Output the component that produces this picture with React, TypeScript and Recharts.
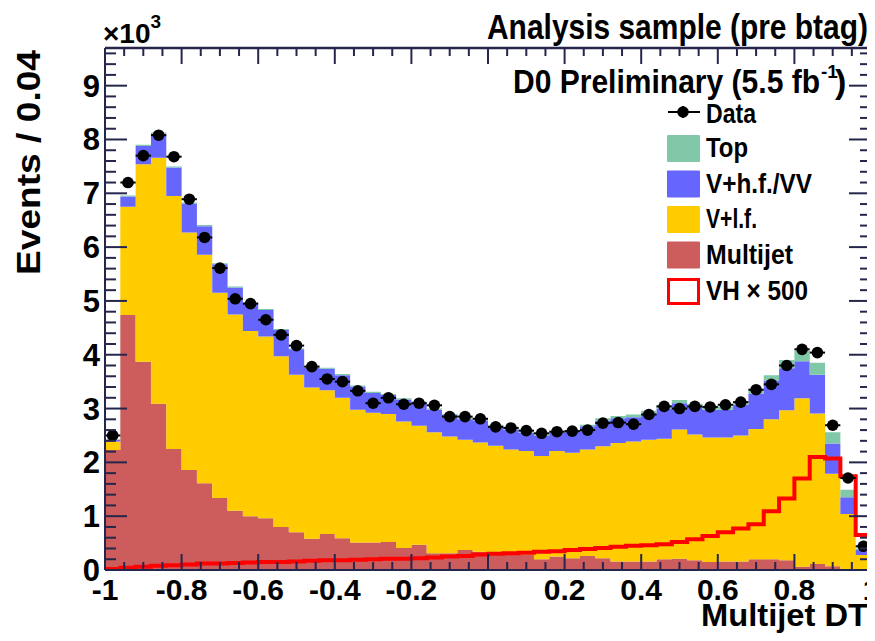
import React from 'react';
import { ComposedChart, Area, Line, Scatter, XAxis, YAxis, ErrorBar, ReferenceLine } from 'recharts';

const FONT = '"Liberation Sans", Arial, Helvetica, sans-serif';

// Histogram binning (Multijet DT, 50 bins of 0.04)
const BIN_WIDTH = 0.04;
const binLowEdges = [
  -1.0, -0.96, -0.92, -0.88, -0.84, -0.8, -0.76, -0.72, -0.68, -0.64,
  -0.6, -0.56, -0.52, -0.48, -0.44, -0.4, -0.36, -0.32, -0.28, -0.24,
  -0.2, -0.16, -0.12, -0.08, -0.04, 0.0, 0.04, 0.08, 0.12, 0.16,
  0.2, 0.24, 0.28, 0.32, 0.36, 0.4, 0.44, 0.48, 0.52, 0.56,
  0.6, 0.64, 0.68, 0.72, 0.76, 0.8, 0.84, 0.88, 0.92, 0.96,
];

// Events per bin for each background component (stacked bottom -> top)
const multijet = [
  2230, 4740, 3870, 3090, 2250, 1860, 1610, 1340, 1100, 1000,
  960, 800, 700, 580, 670, 590, 510, 510, 520, 410,
  470, 310, 310, 370, 340, 290, 290, 280, 200, 250,
  220, 260, 220, 160, 160, 160, 200, 210, 180, 150,
  160, 160, 200, 200, 180, 60, 110, 70, 20, 10,
];
const vlf = [
  160, 2010, 3670, 4570, 4700, 4410, 4250, 3810, 3650, 3440,
  3380, 3170, 2930, 2810, 2670, 2610, 2470, 2410, 2380, 2350,
  2210, 2250, 2170, 2050, 2030, 2020, 1950, 1930, 1920, 1960,
  1960, 1980, 2080, 2200, 2230, 2260, 2240, 2400, 2340, 2310,
  2300, 2340, 2420, 2600, 2790, 3130, 2800, 1720, 1020, 270,
];
const vhf = [
  30, 190, 340, 450, 530, 540, 530, 530, 500, 510,
  490, 490, 470, 370, 400, 420, 430, 370, 350, 410,
  430, 420, 400, 380, 410, 370, 370, 340, 370, 340,
  390, 430, 480, 460, 450, 490, 560, 490, 510, 520,
  520, 570, 660, 720, 780, 690, 720, 560, 310, 90,
];
const topq = [
  10, 20, 20, 20, 20, 20, 20, 20, 20, 20,
  20, 20, 20, 20, 20, 20, 20, 20, 20, 20,
  20, 20, 20, 20, 20, 20, 30, 30, 30, 30,
  30, 30, 40, 40, 50, 50, 60, 60, 60, 60,
  60, 60, 70, 100, 150, 190, 220, 210, 140, 30,
];
const vhTimes500 = [
  20, 40, 60, 80, 90, 100, 120, 120, 130, 140,
  150, 150, 160, 170, 180, 180, 190, 200, 210, 210,
  220, 230, 250, 260, 290, 300, 310, 320, 340, 350,
  370, 390, 410, 430, 450, 460, 480, 520, 570, 630,
  700, 770, 850, 1090, 1330, 1700, 2100, 2070, 1740, 650,
];
const dataCounts = [
  2500, 7200, 7700, 8080, 7680, 6890, 6180, 5610, 5040, 4950,
  4650, 4370, 4170, 3780, 3550, 3500, 3330, 3100, 3200, 3080,
  3100, 3060, 2850, 2850, 2810, 2660, 2640, 2590, 2540, 2570,
  2580, 2600, 2730, 2740, 2710, 2890, 3040, 3000, 3040, 3030,
  3070, 3120, 3350, 3450, 3800, 4100, 4040, 2690, 1710, 440,
];

// Axis ticks / labels
const X_DOMAIN = [-1, 1];
const Y_DOMAIN = [0, 9700];
const xMajorTicks = [-1, -0.8, -0.6, -0.4, -0.2, 0, 0.2, 0.4, 0.6, 0.8, 1];
const xMajorLabels = ['-1', '-0.8', '-0.6', '-0.4', '-0.2', '0', '0.2', '0.4', '0.6', '0.8', '1'];
const yMajorTicks = [0, 1000, 2000, 3000, 4000, 5000, 6000, 7000, 8000, 9000];
const yMajorLabels = ['0', '1', '2', '3', '4', '5', '6', '7', '8', '9'];
const xAllTicks = Array.from({ length: 41 }, (_, i) => Math.round((-1 + i * 0.05) * 100) / 100);
const yAllTicks = Array.from({ length: 49 }, (_, i) => i * 200);

const COLORS = {
  top: '#80C8A8',
  vhf: '#6666FF',
  vlf: '#FFCC00',
  multijet: '#CD5C5C',
  vh: '#FF0000',
  frame: '#26264D',
};

const legendItems = [
  { label: 'Top', fill: COLORS.top, len: 42 },
  { label: 'V+h.f./VV', fill: COLORS.vhf, len: 106 },
  { label: 'V+l.f.', fill: COLORS.vlf, len: 51 },
  { label: 'Multijet', fill: COLORS.multijet, len: 87 },
];

// Table for step areas: one row per lower bin edge plus closing edge at x = 1
const histRows = binLowEdges.map((x, i) => ({
  x,
  multijet: multijet[i],
  vlf: vlf[i],
  vhf: vhf[i],
  top: topq[i],
  vh: vhTimes500[i],
}));
histRows.push({ ...histRows[histRows.length - 1], x: 1 });

const dataPoints = binLowEdges.map((x, i) => ({
  x: Math.round((x + BIN_WIDTH / 2) * 1000) / 1000,
  y: dataCounts[i],
  ex: BIN_WIDTH / 2,
}));

const W = 867;
const H = 625;
const MARGIN = { top: 40, right: 4, bottom: 0, left: 0 };
const PLOT_TOP = MARGIN.top;
const PLOT_RIGHT = W - MARGIN.right;

const isMajorX = (v: number) => xMajorTicks.some((t) => Math.abs(t - v) < 1e-6);
const isMajorY = (v: number) => yMajorTicks.some((t) => Math.abs(t - v) < 1e-6);

const TICK_W = 2;

// Bottom axis tick: inward tick at bottom and mirrored tick along the top frame
const BottomTick = (props: any) => {
  const { x, y, payload } = props;
  const v = payload.value;
  const major = isMajorX(v);
  const len = major ? 16 : 8;
  const idx = xMajorTicks.findIndex((t) => Math.abs(t - v) < 1e-6);
  return (
    <g>
      <line x1={x} x2={x} y1={y} y2={y - len} stroke={COLORS.frame} strokeWidth={TICK_W} />
      <line x1={x} x2={x} y1={PLOT_TOP} y2={PLOT_TOP + len} stroke={COLORS.frame} strokeWidth={TICK_W} />
      {major && (
        <text x={x} y={y + 30} textAnchor="middle" fontFamily={FONT} fontWeight="bold" fontSize={30} fill="#000">
          {xMajorLabels[idx]}
        </text>
      )}
    </g>
  );
};

// Left axis tick: inward tick at left and mirrored tick along the right frame
const LeftTick = (props: any) => {
  const { x, y, payload } = props;
  const v = payload.value;
  const major = isMajorY(v);
  const len = major ? 22 : 11;
  const idx = yMajorTicks.findIndex((t) => Math.abs(t - v) < 1e-6);
  return (
    <g>
      <line x1={x} x2={x + len} y1={y} y2={y} stroke={COLORS.frame} strokeWidth={TICK_W} />
      <line x1={PLOT_RIGHT} x2={PLOT_RIGHT - len} y1={y} y2={y} stroke={COLORS.frame} strokeWidth={TICK_W} />
      {major && (
        <text x={x - 5} y={y + 11} textAnchor="end" fontFamily={FONT} fontWeight="bold" fontSize={31} fill="#000">
          {yMajorLabels[idx]}
        </text>
      )}
    </g>
  );
};

const renderDot = (props: any) => {
  const { cx, cy } = props;
  if (cx == null || cy == null) return <g />;
  return <circle cx={cx} cy={cy} r={5.8} fill="#000" />;
};

const axisLine = { stroke: COLORS.frame, strokeWidth: 2 };

const Annotations = () => (
  <g fontFamily={FONT} fontWeight="bold">
    <text x={95} y={35} fontSize={28} fill="#000">
      ×10
      <tspan dy={-15} fontSize={19}>3</tspan>
    </text>
    <text x={860} y={31} fontSize={35} textAnchor="end" textLength={381} lengthAdjust="spacingAndGlyphs" fill="#000">
      Analysis sample (pre btag)
    </text>
    <text x={812} y={85} fontSize={34} textAnchor="end" fill="#000" textLength={307} lengthAdjust="spacingAndGlyphs">
      D0 Preliminary (5.5 fb
    </text>
    <text x={813} y={70} fontSize={19} fill="#000">-1</text>
    <text x={827} y={85} fontSize={34} fill="#000">)</text>

    {/* legend */}
    <rect x={660} y={103} width={32} height={2} fill="#000" />
    <rect x={674} y={98} width={2} height={12} fill="#000" />
    <circle cx={675} cy={104} r={5.8} fill="#000" />
    <text x={698} y={115} fontSize={28} textLength={50} lengthAdjust="spacingAndGlyphs" fill="#000">Data</text>
    {legendItems.map((it, i) => (
      <g key={it.label}>
        <rect x={659} y={127 + i * 35.5} width={33} height={27} fill={it.fill} rx={1} />
        <text x={698} y={149 + i * 35.5} fontSize={28} textLength={it.len} lengthAdjust="spacingAndGlyphs" fill="#000">
          {it.label}
        </text>
      </g>
    ))}
    <rect x={660.5} y={271.5} width={30} height={24} fill="#fff" stroke={COLORS.vh} strokeWidth={3} />
    <text x={698} y={292} fontSize={28} textLength={102} lengthAdjust="spacingAndGlyphs" fill="#000">
      VH × 500
    </text>

    <text
      x={32}
      y={42}
      fontSize={33}
      textAnchor="end"
      transform="rotate(-90, 32, 42)"
      textLength={225}
      lengthAdjust="spacingAndGlyphs"
      fill="#000"
    >
      Events / 0.04
    </text>
    <text x={860} y={618} fontSize={31} textAnchor="end" textLength={167} lengthAdjust="spacingAndGlyphs" fill="#000">
      Multijet DT
    </text>
  </g>
);

export default function App() {
  return (
    <div style={{ width: W, height: H }}>
      <ComposedChart width={W} height={H} data={histRows} margin={MARGIN}>
        <XAxis
          xAxisId="x"
          dataKey="x"
          type="number"
          domain={X_DOMAIN}
          allowDataOverflow
          ticks={xAllTicks}
          interval={0}
          height={63}
          tickSize={0}
          tickMargin={0}
          tickLine={false}
          axisLine={axisLine}
          tick={BottomTick}
        />
        <YAxis
          yAxisId="y"
          type="number"
          domain={Y_DOMAIN}
          allowDataOverflow
          ticks={yAllTicks}
          interval={0}
          width={97}
          tickSize={0}
          tickMargin={0}
          tickLine={false}
          axisLine={axisLine}
          tick={LeftTick}
        />
        <Area xAxisId="x" yAxisId="y" type="stepAfter" dataKey="multijet" stackId="mc" fill={COLORS.multijet} fillOpacity={1} stroke="none" isAnimationActive={false} dot={false} activeDot={false} />
        <Area xAxisId="x" yAxisId="y" type="stepAfter" dataKey="vlf" stackId="mc" fill={COLORS.vlf} fillOpacity={1} stroke="none" isAnimationActive={false} dot={false} activeDot={false} />
        <Area xAxisId="x" yAxisId="y" type="stepAfter" dataKey="vhf" stackId="mc" fill={COLORS.vhf} fillOpacity={1} stroke="none" isAnimationActive={false} dot={false} activeDot={false} />
        <Area xAxisId="x" yAxisId="y" type="stepAfter" dataKey="top" stackId="mc" fill={COLORS.top} fillOpacity={1} stroke="none" isAnimationActive={false} dot={false} activeDot={false} />
        <Line xAxisId="x" yAxisId="y" type="stepAfter" dataKey="vh" stroke={COLORS.vh} strokeWidth={4} dot={false} activeDot={false} isAnimationActive={false} />
        <Scatter xAxisId="x" yAxisId="y" data={dataPoints} dataKey="y" shape={renderDot} isAnimationActive={false}>
          <ErrorBar dataKey="ex" direction="x" width={0} stroke="#000" strokeWidth={2} />
        </Scatter>
        <ReferenceLine xAxisId="x" yAxisId="y" y={Y_DOMAIN[1]} stroke={COLORS.frame} strokeWidth={2.5} ifOverflow="extendDomain" />
        <ReferenceLine xAxisId="x" yAxisId="y" x={X_DOMAIN[1]} stroke={COLORS.frame} strokeWidth={2.5} ifOverflow="extendDomain" />
        <Annotations />
      </ComposedChart>
    </div>
  );
}
